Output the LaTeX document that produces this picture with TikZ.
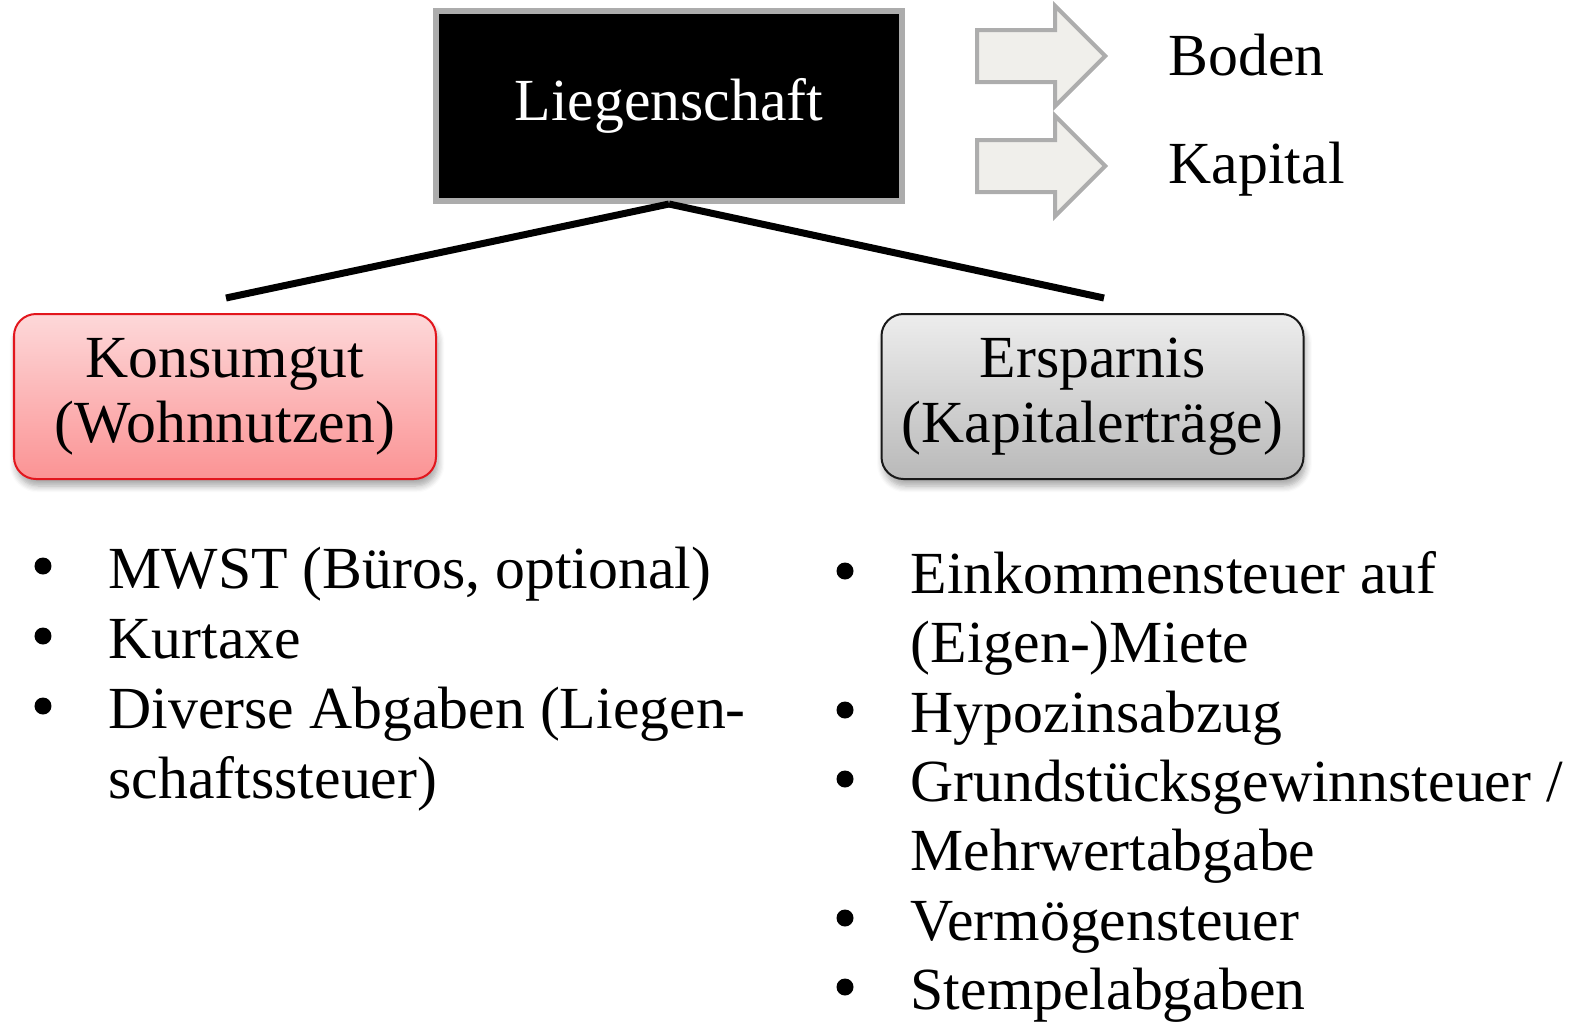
\documentclass[tikz,border=0pt]{standalone}
\usepackage{fontspec}
\setmainfont{Liberation Serif}
\usetikzlibrary{shapes.arrows,shadows.blur}
\definecolor{pinktop}{HTML}{FDD8D9}
\definecolor{pinkbot}{HTML}{FB9394}
\definecolor{redline}{HTML}{E2161D}
\definecolor{greytop}{HTML}{EDEDED}
\definecolor{greybot}{HTML}{B9B9B9}
\definecolor{arrowfill}{HTML}{F0EFEB}
\definecolor{arrowline}{HTML}{ADADAD}
\tikzset{cat/.style={rounded corners=0.22cm,minimum width=4.22cm,minimum height=1.65cm,
  line width=0.02cm,align=center,
  blur shadow={shadow xshift=0.02cm,shadow yshift=-0.07cm,shadow blur steps=6,shadow opacity=35}}}
\tikzset{bigarrow/.style={single arrow,draw=arrowline,fill=arrowfill,line width=0.04cm,
  inner sep=0.24cm,minimum height=1.28cm,single arrow head extend=0.24cm,anchor=tip}}
\tikzset{bul/.style={circle,fill=black,minimum size=0.17cm}}

\begin{document}
\begin{tikzpicture}
\tikzset{every node/.style={inner sep=0pt,font=\fontsize{17pt}{18.5pt}\selectfont}}
\useasboundingbox (0,0) rectangle (15.96,-10.30);

\node[draw=gray!65,fill=black,text=white,line width=0.06cm,minimum width=4.66cm,
  minimum height=1.90cm](lieg) at (6.69,-1.06){Liegenschaft};

\node[bigarrow](pfeil1) at (11.08,-0.56){};
\node[bigarrow](pfeil2) at (11.08,-1.66){};
\node[anchor=base west](boden) at (11.68,-0.75){Boden};
\node[anchor=base west](kapital) at (11.68,-1.83){Kapital};

\node[cat,draw=redline,top color=pinktop,bottom color=pinkbot](kons) at (2.25,-3.965)
  {Konsumgut\\(Wohnnutzen)};
\node[cat,draw=black!90,top color=greytop,bottom color=greybot](spar) at (10.925,-3.965)
  {Ersparnis\\(Kapitalerträge)};

\coordinate (kt) at (2.26,-2.98);
\coordinate (st) at (11.04,-2.98);
\draw[line width=0.07cm] (lieg.south) -- (kt);
\draw[line width=0.07cm] (lieg.south) -- (st);

% Konsumgut
\node[bul](kb1) at (0.43,-5.66){};
\node[anchor=base west](kl1) at (1.08,-5.88){MWST (Büros, optional)};
\node[bul](kb2) at (0.43,-6.36){};
\node[anchor=base west](kl2) at (1.08,-6.58){Kurtaxe};
\node[bul](kb3) at (0.43,-7.06){};
\node[anchor=base west](kl3) at (1.08,-7.28){Diverse Abgaben (Liegen-};
\node[anchor=base west](kl4) at (1.08,-7.98){schaftssteuer)};

% Ersparnis
\node[bul](sb1) at (8.45,-5.71){};
\node[anchor=base west](sl1) at (9.10,-5.93){Einkommensteuer auf};
\node[anchor=base west](sl2) at (9.10,-6.62){(Eigen-)Miete};
\node[bul](sb2) at (8.45,-7.10){};
\node[anchor=base west](sl3) at (9.10,-7.32){Hypozinsabzug};
\node[bul](sb3) at (8.45,-7.79){};
\node[anchor=base west](sl4) at (9.10,-8.01){Grundstücksgewinnsteuer /};
\node[anchor=base west](sl5) at (9.10,-8.70){Mehrwertabgabe};
\node[bul](sb4) at (8.45,-9.18){};
\node[anchor=base west](sl6) at (9.10,-9.40){Vermögensteuer};
\node[bul](sb5) at (8.45,-9.87){};
\node[anchor=base west](sl7) at (9.10,-10.09){Stempelabgaben};

\end{tikzpicture}
\end{document}
